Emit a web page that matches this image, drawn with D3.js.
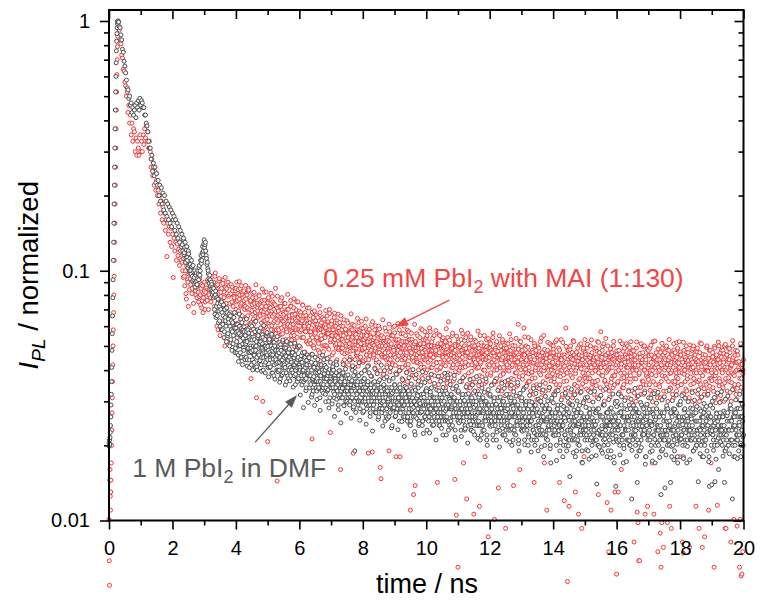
<!DOCTYPE html>
<html><head><meta charset="utf-8">
<script src="https://cdn.jsdelivr.net/npm/d3@7"></script>
<style>
body{margin:0;background:#fff;}
svg text{font-family:Arial,"Liberation Sans",Helvetica,sans-serif;}
</style>
</head><body>
<svg id="chart" width="761" height="601"></svg>
<script>
// ---------- axis ticks ----------
const xMajorTicks = [0,2,4,6,8,10,12,14,16,18,20];
const xMinorTicks = [1,3,5,7,9,11,13,15,17,19];
const yMajorTicks = [0.01,0.1,1];
const yTickLabels = ["0.01","0.1","1"];
const yMinorTicks = [0.02,0.03,0.04,0.05,0.06,0.07,0.08,0.09,0.2,0.3,0.4,0.5,0.6,0.7,0.8,0.9];

// ---------- series names ----------
const seriesNames = ["0.25 mM PbI2 with MAI (1:130)", "1 M PbI2 in DMF"];

// ---------- rising edge (explicit times, ns) ----------
const riseTime = [0,.008,.016,.024,.032,.04,.048,.056,.064,.072,.08,.088,.096,.104,.112,.12,.128,.136,.144,.152,.16,.168,.176,.184,.192,.2,.208,.216,.224,.232,.24,.248,.256,.264,.272,.28,.29];
const riseGray = [.0205,.0198,.021,.0202,.0215,.0225,.024,.026,.029,.032,.036,.041,.048,.056,.066,.078,.092,.11,.13,.155,.185,.22,.26,.31,.37,.44,.52,.6,.68,.76,.83,.89,.94,.975,.995,1,.99];
const riseRed = [.0101,.0069,.0055,.0145,.016,.0125,.011,.013,.0145,.017,.02,.023,.027,.031,.036,.042,.05,.058,.068,.08,.095,.11,.13,.155,.185,.22,.26,.31,.37,.44,.52,.61,.7,.79,.87,.94,1];

// ---------- decay, channels every 0.025 ns starting at 0.3 ns ----------
const decayStart = 0.3, decayStep = 0.025;
const decayGray = [
.99,.95,.94,.88,.84,.77,.75,.69,.66,.62,.58,.54,.53,.49,.50,.46,.47,.43,.45,.42,.44,.46,.41,.47,.45,.48,.44,.49,.46,.48,.47,.45,.45,.42,.42,.39,.38,.36,.33,.31,
.31,.28,.29,.25,.27,.24,.26,.225,.245,.22,.23,.20,.22,.19,.215,.185,.205,.175,.20,.17,.19,.165,.185,.16,.18,.155,.175,.15,.17,.16,.165,.145,.16,.14,.155,.135,.15,.13,.145,.125,
.14,.12,.135,.118,.13,.112,.125,.11,.12,.105,.112,.1,.11,.095,.105,.092,.1,.09,.098,.088,.1,.092,.105,.1,.115,.11,.125,.12,.133,.127,.12,.112,.108,.1,.093,.096,.087,.09,.083,.086,
.085,.07,.08,.065,.078,.074,.062,.072,.06,.07,.075,.058,.066,.054,.07,.063,.052,.068,.056,.062,.05,.066,.058,.048,.062,.055,.068,.047,.059,.052,.061,.046,.056,.05,.064,.045,.054,.058,.048,.052,
.055,.045,.052,.058,.047,.041,.053,.049,.06,.044,.05,.043,.057,.048,.052,.04,.055,.046,.051,.059,.042,.049,.054,.045,.05,.039,.047,.056,.044,.048,.052,.041,.046,.055,.043,.049,.038,.05,.045,.053,
.046,.04,.05,.043,.037,.048,.042,.052,.039,.045,.041,.049,.036,.044,.047,.04,.051,.038,.043,.046,.039,.045,.042,.035,.048,.041,.044,.037,.05,.04,.043,.036,.047,.04,.038,.045,.042,.034,.046,.039,
.04,.034,.038,.043,.032,.037,.041,.035,.045,.036,.033,.039,.036,.042,.031,.038,.035,.04,.034,.044,.037,.032,.041,.035,.038,.03,.036,.043,.034,.039,.035,.04,.031,.037,.034,.042,.033,.029,.038,.036,
.036,.031,.034,.039,.029,.035,.033,.038,.03,.034,.032,.037,.03,.035,.033,.04,.028,.034,.019,.036,.031,.035,.029,.038,.033,.03,.036,.032,.027,.034,.037,.03,.033,.028,.035,.031,.039,.029,.034,.032,
.033,.028,.031,.036,.027,.032,.03,.035,.026,.031,.029,.034,.027,.032,.03,.037,.025,.031,.028,.033,.03,.026,.034,.029,.032,.024,.031,.028,.035,.03,.027,.033,.029,.031,.025,.034,.028,.03,.032,.026,
.031,.026,.03,.034,.025,.029,.027,.032,.024,.03,.028,.033,.026,.03,.022,.029,.031,.027,.034,.025,.029,.027,.032,.024,.03,.028,.026,.033,.029,.023,.03,.025,.028,.032,.027,.029,.024,.031,.026,.028,
.029,.025,.03,.027,.033,.024,.028,.026,.031,.022,.027,.032,.025,.029,.026,.038,.023,.028,.03,.025,.028,.024,.031,.026,.029,.021,.027,.03,.025,.028,.026,.03,.023,.028,.032,.025,.027,.024,.029,.026,
.028,.024,.029,.026,.031,.023,.027,.025,.03,.022,.026,.03,.024,.028,.025,.032,.021,.027,.029,.024,.027,.023,.03,.025,.028,.02,.026,.029,.024,.027,.025,.029,.022,.027,.031,.024,.026,.023,.028,.025,
.027,.023,.028,.025,.03,.022,.026,.024,.029,.021,.025,.029,.023,.027,.024,.031,.02,.026,.028,.023,.026,.022,.029,.024,.027,.019,.025,.028,.023,.026,.024,.028,.021,.026,.03,.023,.025,.022,.027,.024,
.025,.021,.027,.023,.029,.02,.024,.022,.028,.019,.024,.03,.022,.026,.023,.027,.018,.025,.028,.022,.025,.021,.028,.023,.026,.017,.024,.027,.022,.025,.023,.027,.02,.025,.029,.022,.024,.021,.026,.023,
.024,.02,.026,.022,.028,.019,.023,.021,.027,.015,.023,.029,.021,.025,.022,.026,.018,.024,.027,.021,.024,.02,.027,.022,.025,.017,.023,.026,.021,.024,.022,.026,.019,.024,.028,.021,.023,.02,.025,.022,
.025,.021,.027,.014,.028,.02,.023,.022,.026,.019,.022,.029,.02,.025,.023,.027,.018,.024,.026,.021,.024,.019,.026,.022,.025,.017,.023,.0137,.021,.025,.023,.027,.02,.024,.029,.021,.022,.02,.026,.023,
.025,.021,.026,.023,.029,.02,.024,.0122,.027,.022,.023,.028,.02,.025,.0142,.027,.019,.024,.026,.021,.025,.022,.028,.023,.026,.018,.024,.027,.022,.025,.021,.027,.024,.019,.028,.022,.025,.02,.026,.023,
.024,.02,.026,.022,.0127,.019,.023,.021,.027,.0135,.022,.028,.02,.024,.021,.025,.0142,.023,.026,.02,.023,.019,.027,.022,.025,.017,.024,.026,.021,.024,.022,.026,.018,.023,.028,.02,.024,.021,.025,.022,
.024,.021,.026,.022,.028,.019,.023,.021,.027,.02,.023,.0143,.021,.025,.022,.026,.018,.024,.027,.021,.022,.025,.019,.024,.027,.0137,.023,.026,.0139,.024,.021,.025,.0143,.023,.027,.02,.024,.022,.026,.023,
.024,.02,.026,.022,.0142,.019,.023,.021,.027,.02,.023,.028,.021,.025,.0122,.026,.018,.024,.027,.021,.022,.026,.019,.024,.028,.02,.023,.025,.022
];
const decayRed = [
.93,.92,.84,.81,.73,.71,.64,.63,.57,.55,.5,.52,.43,.46,.39,.42,.35,.39,.33,.37,.36,.3,.34,.29,.33,.31,.29,.35,.3,.33,.3,.35,.32,.37,.34,.38,.33,.36,.31,.33,
.3,.26,.28,.24,.26,.22,.25,.21,.23,.2,.21,.185,.2,.17,.19,.16,.18,.155,.17,.145,.16,.114,.155,.14,.15,.13,.148,.125,.14,.094,.135,.12,.13,.11,.128,.115,.122,.105,.12,.11,
.115,.1,.112,.095,.108,.081,.104,.092,.072,.1,.098,.088,.102,.085,.095,.068,.092,.083,.09,.078,.088,.075,.09,.08,.085,.071,.087,.078,.083,.07,.082,.088,.076,.09,.08,.093,.078,.086,.095,.082,
.09,.072,.098,.08,.06,.088,.075,.093,.055,.082,.085,.07,.092,.078,.05,.086,.074,.081,.09,.065,.08,.068,.088,.075,.083,.058,.078,.085,.07,.09,.076,.084,.062,.08,.072,.087,.066,.078,.083,.07,
.072,.06,.08,.066,.085,.055,.075,.037,.068,.078,.064,.082,.07,.058,.031,.074,.066,.08,.052,.071,.069,.076,.03,.063,.082,.057,.072,.065,.0207,.078,.06,.027,.074,.067,.079,.054,.07,.063,.085,.058,
.0144,.066,.058,.072,.05,.064,.078,.056,.068,.061,.074,.053,.065,.06,.07,.047,.063,.076,.055,.067,.059,.071,.052,.064,.058,.075,.049,.062,.069,.057,.066,.054,.073,.06,.045,.068,.057,.063,.071,.051,
.06,.052,.066,.055,.0212,.063,.05,.069,.057,.061,.054,.065,.048,.059,.068,.053,.062,.046,.058,.064,.05,.061,.056,.066,.049,.058,.07,.0225,.055,.063,.059,.047,.065,.053,.06,.051,.057,.067,.049,.062,
.016,.055,.047,.06,.052,.044,.058,.05,.063,.048,.057,.051,.045,.059,.053,.061,.0186,.049,.056,.052,.046,.058,.05,.062,.043,.054,.059,.048,.053,.057,.05,.06,.044,.055,.051,.0186,.058,.047,.052,.061,
.0188,.053,.046,.058,.049,.043,.056,.051,.06,.047,.0163,.0147,.055,.048,.052,.045,.059,.05,.044,.054,.049,.019,.057,.046,.051,.042,.055,.048,.06,.045,.018,.053,.047,.05,.058,.018,.052,.049,.041,.056,
.05,.044,.055,.047,.052,.041,.057,.049,.011,.046,.053,.045,.0127,.051,.0138,.048,.056,.043,.05,.047,.054,.042,.049,.058,.045,.051,.04,.053,.047,.055,.044,.05,.046,.057,.041,.052,.048,.045,.055,.049,
.048,.043,.0142,.051,.046,.055,.041,.049,.053,.045,.05,.044,.052,.047,.036,.054,.0625,.046,.051,.043,.049,.055,.042,.047,.0146,.05,.0105,.045,.0065,.052,.046,.041,.053,.048,.056,.017,.05,.047,.054,.0122,
.047,.042,.051,.045,.053,.035,.048,.044,.0106,.05,.043,.052,.046,.049,.041,.0114,.055,.045,.05,.047,.044,.05,.018,.048,.053,.045,.0086,.049,.042,.051,.046,.043,.054,.047,.0101,.049,.036,.052,.045,.0135,
.046,.041,.05,.044,.052,.039,.047,.043,.0093,.049,.042,.051,.045,.048,.035,.053,.044,.049,.0138,.046,.05,.043,.047,.041,.061,.045,.016,.052,.044,.048,.043,.059,.046,.04,.05,.042,.047,.054,.036,.045,
.044,.039,.048,.043,.0142,.05,.041,.046,.034,.045,.049,.042,.052,.04,.047,.044,.055,.017,.046,.043,.011,.048,.04,.045,.051,.038,.047,.043,.05,.041,.045,.052,.035,.046,.042,.049,.0142,.044,.053,.04,
.046,.041,.012,.045,.059,.039,.0057,.048,.0114,.043,.05,.04,.047,.044,.052,.035,.013,.045,.041,.049,.0106,.046,.042,.051,.0093,.044,.048,.018,.053,.045,.042,.049,.037,.046,.043,.05,.041,.047,.036,.044,
.045,.04,.049,.043,.052,.0127,.047,.041,.057,.044,.048,.042,.051,.036,.046,.043,.0118,.05,.0075,.045,.041,.011,.047,.044,.05,.038,.013,.046,.0061,.043,.013,.048,.042,.045,.016,.051,.044,.035,.049,.046,
.045,.041,.05,.043,.047,.039,.052,.044,.048,.042,.0082,.046,.04,.049,.0108,.0098,.0069,.0069,.045,.051,.043,.047,.035,.05,.0106,.044,.039,.0114,.048,.042,.049,.04,.046,.017,.052,.0106,.045,.041,.047,.044,
.0075,.046,.04,.0089,.0065,.0098,.049,.0078,.043,.047,.041,.05,.0098,.044,.048,.0114,.042,.0093,.046,.036,.051,.043,.047,.039,.045,.049,.041,.052,.018,.046,.042,.0082,.0074,.048,.04,.045,.05,.043,.047,.041,
.0078,.045,.041,.048,.043,.05,.039,.046,.0114,.044,.049,.042,.0093,.047,.035,.051,.0078,.045,.043,.0086,.046,.04,.05,.044,.011,.048,.042,.017,.039,.047,.043,.0065,.049,.041,.046,.0115,.044,.05,.036,.047,
.045,.04,.048,.043,.05,.0093,.0093,.046,.041,.049,.044,.047,.0082,.042,.05,.045,.0101,.035,.048,.043,.0095,.046,.041,.0065,.0101,.006,.0061,.0075,.044
];

// ---------- interleaved channels (every 0.025 ns starting at 2.3125 ns) ----------
const interStart = 2.3125, interStep = 0.025;
const interGray = [
.127,.133,.116,.124,.108,.121,.113,.103,.117,.1,.106,.097,.104,.091,.099,.094,.086,.096,.091,.093,.097,.103,.096,.11,.107,.118,.116,.128,.124,.13,.115,.106,.102,.097,.089,.092,.084,.088,.08,.082,
.079,.067,.083,.072,.066,.077,.069,.063,.074,.058,.068,.061,.073,.057,.065,.06,.071,.055,.064,.067,.06,.053,.063,.057,.051,.065,.059,.049,.061,.054,.057,.05,.06,.047,.055,.062,.051,.049,.057,.044,
.051,.057,.044,.049,.054,.047,.05,.042,.056,.048,.046,.053,.041,.05,.045,.058,.047,.043,.052,.049,.045,.051,.04,.047,.053,.043,.049,.046,.041,.052,.047,.044,.05,.039,.046,.052,.042,.048,.044,.04,
.043,.048,.04,.045,.049,.038,.044,.041,.047,.042,.046,.039,.043,.048,.037,.045,.041,.044,.04,.047,.042,.038,.046,.04,.043,.036,.045,.039,.041,.044,.038,.043,.04,.036,.044,.041,.037,.042,.039,.045,
.038,.042,.035,.04,.037,.033,.041,.036,.039,.034,.037,.041,.034,.038,.036,.042,.033,.039,.035,.037,.04,.034,.037,.033,.039,.036,.031,.038,.035,.04,.034,.037,.032,.036,.039,.033,.035,.038,.031,.034,
.033,.037,.031,.035,.032,.036,.03,.034,.037,.031,.035,.029,.033,.036,.031,.034,.038,.03,.033,.035,.032,.036,.03,.033,.028,.035,.032,.034,.03,.037,.031,.034,.029,.033,.036,.03,.032,.027,.035,.031,
.032,.029,.034,.03,.027,.033,.031,.036,.028,.032,.03,.033,.028,.031,.035,.029,.032,.026,.034,.03,.029,.032,.027,.031,.034,.028,.03,.033,.026,.031,.033,.028,.031,.029,.035,.027,.032,.03,.028,.033,
.029,.032,.027,.03,.026,.033,.028,.031,.025,.029,.031,.027,.03,.034,.026,.029,.032,.028,.024,.03,.027,.031,.028,.025,.032,.029,.026,.03,.033,.027,.029,.026,.031,.028,.034,.025,.029,.027,.031,.03,
.028,.031,.026,.029,.024,.032,.027,.03,.025,.028,.03,.026,.033,.028,.025,.029,.031,.024,.028,.032,.026,.029,.027,.031,.023,.028,.03,.026,.033,.027,.029,.025,.028,.031,.026,.03,.023,.028,.032,.027,
.027,.03,.025,.028,.023,.031,.026,.029,.024,.027,.029,.025,.032,.027,.024,.028,.03,.022,.027,.031,.025,.028,.026,.03,.022,.027,.029,.025,.032,.026,.028,.024,.027,.03,.025,.029,.021,.027,.031,.026,
.026,.029,.024,.027,.022,.03,.025,.028,.023,.026,.028,.024,.031,.026,.023,.027,.029,.021,.026,.03,.024,.027,.025,.029,.021,.026,.028,.024,.031,.025,.027,.023,.026,.029,.024,.028,.02,.026,.03,.025,
.025,.028,.023,.026,.021,.029,.024,.027,.022,.025,.027,.023,.03,.025,.022,.026,.028,.02,.025,.029,.023,.026,.024,.028,.02,.025,.027,.023,.032,.024,.026,.022,.025,.028,.023,.027,.019,.025,.029,.024,
.024,.027,.022,.025,.02,.028,.023,.026,.021,.024,.026,.022,.029,.024,.021,.025,.027,.019,.024,.028,.022,.025,.023,.027,.019,.024,.026,.022,.031,.023,.025,.021,.024,.027,.022,.026,.018,.024,.028,.023,
.024,.027,.021,.025,.02,.028,.023,.026,.022,.024,.026,.021,.029,.024,.022,.025,.027,.019,.024,.028,.022,.025,.023,.027,.018,.024,.026,.021,.03,.023,.025,.021,.024,.027,.022,.026,.017,.024,.028,.023,
.023,.026,.021,.025,.02,.028,.022,.026,.021,.024,.026,.022,.028,.024,.021,.025,.027,.019,.023,.029,.022,.025,.023,.027,.018,.024,.026,.021,.031,.023,.025,.02,.024,.027,.022,.026,.017,.023,.028,.024,
.023,.026,.021,.024,.019,.027,.022,.025,.021,.023,.025,.022,.028,.023,.02,.024,.027,.018,.023,.028,.021,.024,.022,.027,.018,.023,.026,.021,.03,.022,.025,.02,.023,.026,.021,.025,.017,.023,.027,.023,
.023,.026,.021,.024,.019,.027,.022,.025,.02,.023,.025,.021,.028,.023,.02,.024,.026,.018,.023,.028,.021,.024,.022,.026,.018,.023,.026,.02,.03,.022,.024,.02,.023,.026,.021,.025,.016,.023,.027,.022,
.023,.026,.021,.024,.019,.027,.022,.025,.02,.023,.025,.021,.028,.023,.02,.024,.026,.018,.023,.028,.021,.024,.022,.026,.018,.023,.026,.02
];
const interRed = [
.108,.094,.118,.087,.1,.077,.11,.09,.097,.084,.093,.1,.081,.096,.074,.089,.097,.08,.086,.092,.082,.079,.093,.073,.088,.076,.068,.081,.09,.075,.086,.079,.092,.07,.084,.09,.075,.083,.088,.078,
.083,.095,.067,.087,.078,.058,.091,.073,.084,.079,.076,.089,.063,.082,.094,.071,.085,.052,.079,.087,.074,.081,.066,.086,.072,.079,.06,.083,.075,.068,.081,.069,.077,.085,.064,.074,.08,.056,.073,.079,
.077,.065,.071,.083,.059,.07,.076,.062,.073,.067,.061,.074,.068,.078,.056,.069,.073,.045,.066,.075,.072,.059,.067,.074,.063,.07,.055,.068,.077,.061,.066,.071,.058,.069,.075,.062,.067,.073,.056,.064,
.062,.069,.055,.065,.072,.059,.063,.048,.067,.06,.064,.058,.07,.061,.053,.066,.06,.072,.057,.063,.061,.055,.067,.059,.063,.05,.065,.058,.062,.068,.058,.063,.054,.066,.06,.057,.064,.052,.061,.059,
.057,.062,.051,.059,.054,.065,.049,.058,.063,.053,.06,.052,.058,.047,.061,.055,.064,.05,.057,.06,.054,.059,.05,.062,.056,.045,.058,.053,.061,.055,.058,.052,.06,.055,.049,.063,.054,.059,.051,.056,
.053,.058,.049,.055,.042,.057,.051,.056,.047,.054,.05,.056,.044,.053,.058,.048,.052,.041,.055,.049,.054,.047,.052,.057,.045,.051,.055,.049,.043,.053,.049,.054,.046,.052,.057,.044,.05,.055,.048,.051,
.051,.045,.054,.048,.04,.052,.047,.056,.043,.05,.053,.046,.05,.038,.054,.049,.045,.052,.041,.048,.047,.052,.044,.05,.055,.042,.049,.046,.053,.039,.05,.044,.048,.053,.041,.047,.051,.037,.049,.045,
.047,.052,.042,.049,.036,.05,.045,.053,.04,.047,.044,.05,.038,.048,.052,.043,.046,.035,.049,.045,.051,.041,.047,.037,.05,.044,.048,.039,.046,.052,.043,.048,.036,.046,.05,.041,.045,.049,.038,.047,
.046,.04,.05,.035,.047,.043,.051,.038,.045,.049,.042,.047,.034,.045,.05,.039,.044,.048,.036,.046,.049,.041,.045,.037,.048,.043,.033,.046,.05,.04,.044,.048,.036,.045,.041,.049,.038,.043,.047,.035,
.045,.039,.049,.034,.046,.042,.05,.037,.044,.048,.041,.046,.033,.044,.049,.038,.043,.047,.035,.045,.048,.04,.044,.036,.047,.042,.032,.045,.049,.039,.043,.047,.035,.044,.04,.048,.037,.042,.046,.034,
.044,.038,.048,.033,.045,.041,.049,.036,.043,.047,.04,.045,.032,.043,.048,.037,.042,.046,.034,.044,.047,.039,.043,.035,.046,.041,.031,.044,.048,.038,.042,.046,.034,.043,.039,.047,.036,.041,.045,.033,
.043,.037,.047,.032,.044,.04,.048,.035,.042,.046,.039,.044,.031,.042,.047,.036,.041,.045,.033,.043,.046,.038,.042,.034,.045,.04,.03,.043,.047,.037,.041,.045,.033,.042,.038,.046,.035,.04,.044,.032,
.042,.036,.046,.032,.043,.039,.048,.034,.041,.045,.038,.043,.031,.041,.046,.035,.04,.045,.033,.042,.045,.037,.041,.034,.044,.039,.03,.042,.047,.036,.04,.044,.033,.041,.037,.046,.034,.039,.043,.032,
.042,.036,.045,.031,.043,.039,.047,.034,.041,.045,.038,.043,.03,.041,.046,.035,.04,.044,.033,.042,.045,.037,.041,.034,.044,.038,.03,.042,.046,.036,.04,.044,.032,.041,.037,.045,.034,.039,.043,.031,
.041,.036,.045,.031,.042,.038,.047,.033,.04,.044,.037,.042,.03,.04,.045,.034,.039,.044,.032,.041,.044,.036,.04,.033,.043,.038,.029,.041,.046,.035,.039,.043,.032,.04,.036,.045,.033,.038,.042,.031,
.041,.035,.044,.031,.042,.038,.046,.033,.04,.044,.037,.042,.03,.04,.045,.034,.039,.043,.032,.041,.044,.036,.04,.033,.043,.037,.029,.041,.046,.035,.039,.043,.032,.04,.036,.044,.033,.038,.042,.031,
.04,.035,.044,.03,.041,.037,.046,.033,.039,.043,.036,.041,.03,.039,.044,.034,.038,.043,.032,.04,.043,.035,.04,.033,.042,.037,.029,.04,.045,.034,.038,.042,.031,.039,.036,.044,.032,.037,.041,.03,
.04,.035,.044,.03,.041,.037,.046,.033,.039,.043,.036,.041,.03,.039,.044,.034,.038,.043,.032,.04,.043,.035,.04,.033,.042,.037,.029,.04
];

// ---------- third channel set (every 0.025 ns starting at 4.00625 ns) ----------
const thirdStart = 4.00625, thirdStep = 0.025;
const thirdGray = [
.0612,.0468,.0557,.0433,.0671,.0502,.0449,.0588,.0421,.0536,.0597,.0452,.0519,.0641,.0415,.0487,.0563,.0439,.0608,.0474,.0528,.0401,.0583,.0459,.0495,.0627,.0412,.0541,.0466,.0572,.0437,.0519,.0396,.0554,.0478,.0603,.0421,.0499,.0452,.0566,
.0498,.0376,.0531,.0412,.0462,.0557,.0389,.0443,.0517,.0368,.0481,.0425,.0545,.0394,.0469,.0358,.0506,.0437,.0384,.0528,.0417,.0492,.0349,.0455,.0521,.0379,.0438,.0486,.0362,.0509,.0402,.0471,.0342,.0448,.0513,.0385,.0429,.0367,.0495,.0413,
.0421,.0318,.0457,.0349,.0395,.0283,.0472,.0366,.0331,.0438,.0384,.0297,.0449,.0356,.0408,.0312,.0463,.0341,.0377,.0289,.0426,.0362,.0305,.0441,.0338,.0393,.0276,.0414,.0352,.0459,.0323,.0387,.0418,.0299,.0371,.0445,.0334,.0282,.0402,.0358,
.0386,.0293,.0412,.0327,.0261,.0369,.0431,.0306,.0354,.0278,.0398,.0319,.0246,.0375,.0339,.0421,.0288,.0352,.0404,.0269,.0331,.0383,.0296,.0439,.0312,.0257,.0363,.0416,.0285,.0347,.0394,.0271,.0323,.0378,.0302,.0428,.0252,.0341,.0389,.0298,
.0362,.0274,.0398,.0309,.0243,.0351,.0414,.0288,.0336,.0261,.0379,.0301,.0228,.0357,.0322,.0405,.0271,.0334,.0387,.0254,.0316,.0366,.0281,.0419,.0296,.0239,.0346,.0398,.0268,.0329,.0376,.0256,.0307,.0362,.0286,.0409,.0235,.0324,.0371,.0283,
.0349,.0262,.0385,.0296,.0231,.0338,.0398,.0276,.0322,.0249,.0366,.0288,.0217,.0344,.031,.0391,.0258,.0321,.0373,.0242,.0303,.0352,.0269,.0402,.0284,.0227,.0333,.0384,.0256,.0316,.0362,.0244,.0294,.0348,.0273,.0394,.0223,.0311,.0357,.0271,
.0337,.0254,.0372,.0287,.0224,.0327,.0385,.0267,.0312,.0241,.0354,.0279,.021,.0333,.03,.0378,.025,.0311,.0361,.0234,.0293,.0341,.0261,.0389,.0275,.022,.0322,.0372,.0248,.0306,.035,.0236,.0285,.0337,.0264,.0381,.0216,.0301,.0345,.0262,
.0326,.0246,.036,.0278,.0217,.0317,.0373,.0259,.0302,.0233,.0343,.027,.0204,.0322,.029,.0366,.0242,.0301,.0349,.0227,.0284,.033,.0253,.0377,.0266,.0213,.0312,.036,.024,.0296,.0339,.0229,.0276,.0326,.0256,.0369,.021,.0291,.0334,.0254,
.0315,.0238,.0348,.0269,.021,.0307,.0361,.0251,.0292,.0226,.0332,.0261,.0197,.0312,.0281,.0354,.0234,.0291,.0338,.022,.0275,.032,.0245,.0365,.0258,.0206,.0302,.0348,.0232,.0287,.0328,.0222,.0267,.0315,.0248,.0357,.0203,.0282,.0323,.0246,
.0301,.0228,.0333,.0257,.0201,.0293,.0345,.024,.0279,.0216,.0317,.025,.0188,.0298,.0269,.0338,.0224,.0278,.0323,.021,.0263,.0306,.0234,.0349,.0247,.0197,.0289,.0333,.0222,.0274,.0314,.0212,.0255,.0301,.0237,.0341,.0194,.027,.0309,.0235,
.0296,.0219,.0318,.0246,.0174,.0281,.0331,.0229,.0268,.0205,.0304,.0239,.018,.0286,.0258,.0324,.0213,.0266,.031,.0199,.0252,.0293,.0224,.0335,.0236,.0187,.0277,.0319,.0211,.0262,.0301,.0202,.0244,.0289,.0226,.0327,.0171,.0258,.0296,.0224,
.0231,.0284,.0192,.0312,.0247,.0176,.0269,.0326,.0215,.0258,.0298,.0208,.0329,.0241,.0182,.0276,.0224,.0307,.0197,.0264,.0317,.0233,.0186,.0291,.0253,.0212,.0336,.0239,.0271,.0201,.0305,.0222,.0178,.0282,.0249,.0321,.0206,.0263,.0294,.0217,
.0286,.0207,.0321,.0238,.0183,.0273,.0313,.0221,.0259,.0194,.0302,.0232,.0172,.0278,.0251,.0329,.0209,.0262,.0306,.0191,.0246,.0289,.0218,.0338,.0229,.0181,.0271,.0315,.0204,.0256,.0297,.0196,.0239,.0283,.0221,.0324,.0168,.0254,.0292,.0219,
.0226,.0279,.0188,.0309,.0243,.0173,.0266,.0322,.0211,.0254,.0295,.0204,.0326,.0237,.0179,.0272,.0219,.0304,.0193,.0261,.0313,.0229,.0183,.0288,.0249,.0208,.0332,.0235,.0268,.0198,.0302,.0218,.0175,.0279,.0245,.0318,.0202,.0259,.0291,.0214,
.0291,.0212,.0316,.0242,.0177,.0277,.0309,.0225,.0263,.0198,.0299,.0236,.0175,.0282,.0255,.0325,.0213,.0266,.0303,.0195,.025,.0286,.0222,.0334,.0233,.0185,.0274,.0312,.0208,.0259,.0294,.02,.0243,.0286,.0225,.032,.0172,.0257,.0289,.0223,
.0229,.0282,.0191,.0311,.0246,.0176,.0268,.0324,.0214,.0257,.0297,.0207,.0328,.024,.0181,.0274,.0222,.0306,.0195,.0263,.0315,.0231,.0185,.029,.0251,.021,.0334,.0237,.027,.02,.0304,.022,.0177,.0281,.0247,.032,.0204,.0261,.0293,.0216
];
const thirdRed = [
.0851,.0613,.0782,.0547,.0904,.0668,.0729,.0582,.0816,.0635,.0758,.0521,.0873,.0649,.0701,.0569,.0838,.0614,.0766,.0489,.0693,.0812,.0558,.0747,.0627,.0879,.0533,.0712,.0651,.0794,.0578,.0731,.0619,.0846,.0542,.0685,.0763,.0596,.0822,.0637,
.0744,.0552,.0693,.0508,.0812,.0603,.0657,.0527,.0738,.0579,.0686,.0476,.0791,.0589,.0634,.0516,.0761,.0557,.0697,.0449,.0628,.0739,.0503,.0681,.0569,.0804,.0485,.0648,.0594,.0723,.0528,.0665,.0562,.0772,.0497,.0622,.0696,.0541,.0751,.0579,
.0667,.0494,.0621,.0455,.0728,.0541,.0589,.0472,.0662,.0519,.0616,.0428,.0709,.0528,.0569,.0463,.0683,.0499,.0626,.0406,.0563,.0664,.0451,.0611,.0511,.0722,.0436,.0582,.0533,.0649,.0474,.0597,.0504,.0693,.0446,.0558,.0625,.0485,.0674,.0519,
.0621,.046,.0578,.0424,.0677,.0503,.0548,.044,.0616,.0483,.0573,.0398,.066,.0491,.053,.0431,.0636,.0465,.0583,.0379,.0524,.0618,.042,.0569,.0476,.0672,.0406,.0542,.0496,.0604,.0441,.0556,.0469,.0645,.0415,.0519,.0582,.0451,.0627,.0483,
.0588,.0436,.0547,.0401,.0641,.0476,.0519,.0417,.0583,.0457,.0542,.0377,.0625,.0465,.0502,.0408,.0602,.044,.0552,.0359,.0496,.0585,.0398,.0539,.0451,.0636,.0385,.0513,.047,.0572,.0418,.0526,.0444,.0611,.0393,.0491,.0551,.0427,.0594,.0457,
.0564,.0418,.0525,.0385,.0615,.0457,.0498,.04,.0559,.0439,.052,.0362,.06,.0446,.0482,.0392,.0578,.0422,.053,.0345,.0476,.0562,.0382,.0517,.0433,.061,.037,.0492,.0451,.0549,.0401,.0505,.0426,.0586,.0377,.0471,.0529,.041,.057,.0439,
.0541,.0401,.0504,.0369,.059,.0439,.0478,.0384,.0537,.0421,.0499,.0347,.0576,.0428,.0463,.0376,.0555,.0405,.0509,.0331,.0457,.0539,.0366,.0496,.0416,.0586,.0355,.0472,.0433,.0527,.0385,.0485,.0409,.0562,.0362,.0452,.0508,.0394,.0547,.0421,
.0529,.0392,.0493,.0361,.0577,.0429,.0467,.0375,.0525,.0412,.0488,.0339,.0563,.0419,.0453,.0368,.0543,.0396,.0498,.0324,.0447,.0527,.0358,.0485,.0407,.0573,.0347,.0462,.0423,.0515,.0376,.0474,.04,.055,.0354,.0442,.0497,.0385,.0535,.0412,
.0516,.0382,.048,.0352,.0563,.0418,.0455,.0366,.0512,.0401,.0476,.0331,.0549,.0408,.0442,.0359,.053,.0386,.0486,.0316,.0436,.0514,.0349,.0473,.0397,.0559,.0338,.045,.0413,.0502,.0367,.0462,.039,.0536,.0345,.0431,.0485,.0376,.0522,.0401,
.0497,.0368,.0463,.0339,.0543,.0403,.0439,.0353,.0494,.0387,.0459,.0319,.0529,.0393,.0426,.0346,.0511,.0372,.0469,.0305,.042,.0496,.0337,.0456,.0383,.0539,.0326,.0434,.0398,.0484,.0354,.0446,.0376,.0517,.0333,.0416,.0468,.0362,.0503,.0387,
.0484,.0359,.0451,.033,.0529,.0393,.0428,.0344,.0481,.0377,.0447,.0311,.0516,.0383,.0415,.0337,.0498,.0362,.0457,.0297,.0409,.0483,.0328,.0444,.0373,.0525,.0318,.0423,.0388,.0472,.0345,.0434,.0366,.0504,.0324,.0405,.0456,.0353,.049,.0377,
.0371,.0462,.0336,.0508,.0388,.0302,.0449,.0416,.0529,.0354,.0437,.0323,.0491,.0398,.0347,.0476,.0364,.0517,.0411,.0315,.0452,.0381,.0498,.0332,.0426,.0364,.0536,.0392,.0341,.0469,.0404,.0311,.0487,.0357,.0443,.0379,.0521,.0349,.0432,.0395,
.0478,.0355,.0446,.0326,.0523,.0389,.0423,.034,.0476,.0373,.0442,.0308,.051,.0379,.041,.0333,.0492,.0358,.0452,.0294,.0404,.0478,.0324,.0439,.0369,.0519,.0314,.0418,.0384,.0467,.0341,.0429,.0362,.0498,.032,.04,.0451,.0349,.0485,.0373,
.0367,.0457,.0332,.0503,.0384,.0299,.0444,.0411,.0523,.035,.0432,.032,.0486,.0394,.0343,.0471,.036,.0512,.0406,.0312,.0447,.0377,.0493,.0329,.0421,.036,.053,.0388,.0337,.0464,.04,.0308,.0482,.0353,.0438,.0375,.0516,.0345,.0427,.0391,
.0473,.0351,.0441,.0322,.0517,.0385,.0418,.0336,.0471,.0369,.0437,.0305,.0505,.0375,.0406,.033,.0487,.0354,.0447,.0291,.04,.0473,.0321,.0434,.0365,.0514,.0311,.0413,.038,.0462,.0337,.0424,.0358,.0493,.0317,.0396,.0446,.0345,.048,.0369,
.0363,.0452,.0329,.0498,.038,.0296,.0439,.0407,.0518,.0346,.0427,.0317,.0481,.039,.034,.0466,.0356,.0507,.0402,.0309,.0442,.0373,.0488,.0326,.0417,.0356,.0525,.0384,.0334,.0459,.0396,.0305,.0477,.0349,.0433,.0371,.0511,.0341,.0422,.0387
];

// ---------- annotations (data coordinates) ----------
const annotRed  = {t: 6.75, v: 0.0861, arrowFrom: [10.73, 0.0763], arrowTo: [9.02, 0.0595]};
const annotGray = {t: 0.73, v: 0.01494, arrowFrom: [4.61, 0.0206], arrowTo: [5.93, 0.0318]};

// ---------- build ----------
const svg = d3.select("#chart");
const x = d3.scaleLinear().domain([0, 20]).range([109, 743.5]);
const y = d3.scaleLog().domain([0.01, 1]).range([520.5, 21]);
const yTopVal = 1.107;                // frame top a bit above 1
const pL = x(0), pR = x(20), pB = y(0.01), pT = y(yTopVal);

const colRed = "#ef3434", colGray = "#4b4b4b";
const textRed = "#f04646", textGray = "#5a5a5a";

function toPoints(times, vals){ return vals.map((v,i)=>({t:times[i], v})); }
function stepPoints(start, step, vals){ return vals.map((v,i)=>({t: start + i*step, v})); }

const redPts = toPoints(riseTime, riseRed)
  .concat(stepPoints(decayStart, decayStep, decayRed))
  .concat(stepPoints(interStart, interStep, interRed))
  .concat(stepPoints(thirdStart, thirdStep, thirdRed))
  .filter(d=>d.t<=20.0001).sort((a,b)=>a.t-b.t);
const grayPts = toPoints(riseTime, riseGray)
  .concat(stepPoints(decayStart, decayStep, decayGray))
  .concat(stepPoints(interStart, interStep, interGray))
  .concat(stepPoints(thirdStart, thirdStep, thirdGray))
  .filter(d=>d.t<=20.0001).sort((a,b)=>a.t-b.t);

// data points (red under, gray on top)
const gData = svg.append("g");
gData.append("g").selectAll("circle").data(redPts).join("circle")
  .attr("cx", d=>x(d.t)).attr("cy", d=>y(d.v)).attr("r", 2.0)
  .attr("fill", "#fff").attr("stroke", colRed).attr("stroke-width", 1.0);
gData.append("g").selectAll("circle").data(grayPts).join("circle")
  .attr("cx", d=>x(d.t)).attr("cy", d=>y(d.v)).attr("r", 2.0)
  .attr("fill", "#fff").attr("stroke", colGray).attr("stroke-width", 1.0);

// axes
function styleAxis(g){
  g.select(".domain").remove();
  g.selectAll("line").attr("stroke","#000").attr("stroke-width",1.6);
  g.selectAll("text").attr("font-family","Arial, 'Liberation Sans', sans-serif").attr("font-size",20).attr("fill","#000");
}
svg.append("g").attr("transform",`translate(0,${pB})`)
  .call(d3.axisBottom(x).tickValues(xMajorTicks).tickSize(9).tickPadding(11).tickFormat(d3.format("d"))).call(styleAxis);
svg.append("g").attr("transform",`translate(0,${pB})`)
  .call(d3.axisBottom(x).tickValues(xMinorTicks).tickSize(5).tickFormat("")).call(styleAxis);
svg.append("g").attr("transform",`translate(0,${pT})`)
  .call(d3.axisTop(x).tickValues(xMajorTicks).tickSize(-9).tickFormat("")).call(styleAxis);
svg.append("g").attr("transform",`translate(0,${pT})`)
  .call(d3.axisTop(x).tickValues(xMinorTicks).tickSize(-5).tickFormat("")).call(styleAxis);
svg.append("g").attr("transform",`translate(${pL},0)`)
  .call(d3.axisLeft(y).tickValues(yMajorTicks).tickSize(9).tickPadding(10).tickFormat((d,i)=>yTickLabels[i])).call(styleAxis);
svg.append("g").attr("transform",`translate(${pL},0)`)
  .call(d3.axisLeft(y).tickValues(yMinorTicks).tickSize(5).tickFormat("")).call(styleAxis);
svg.append("g").attr("transform",`translate(${pR},0)`)
  .call(d3.axisRight(y).tickValues(yMajorTicks).tickSize(-9).tickFormat("")).call(styleAxis);
svg.append("g").attr("transform",`translate(${pR},0)`)
  .call(d3.axisRight(y).tickValues(yMinorTicks).tickSize(-5).tickFormat("")).call(styleAxis);

// frame
svg.append("rect").attr("x",pL).attr("y",pT).attr("width",pR-pL).attr("height",pB-pT)
  .attr("fill","none").attr("stroke","#000").attr("stroke-width",2);

// axis titles
svg.append("text").attr("x",427).attr("y",593).attr("text-anchor","middle")
  .attr("font-size",27).attr("fill","#000").text("time / ns");
const yt = svg.append("text").attr("transform",`translate(38,${(pT+pB)/2 + 10}) rotate(-90)`)
  .attr("text-anchor","middle").attr("font-size",27.5).attr("fill","#000");
yt.append("tspan").attr("font-style","italic").text("I");
yt.append("tspan").attr("font-style","italic").attr("font-size",19).attr("dy",7).text("PL");
yt.append("tspan").attr("dy",-7).text(" / normalized");

// annotations
function arrow(from, to, color){
  const x0=x(from[0]), y0=y(from[1]), x1=x(to[0]), y1=y(to[1]);
  const dx=x1-x0, dy=y1-y0, L=Math.hypot(dx,dy), ux=dx/L, uy=dy/L;
  const hl=13, hw=4.5, bx=x1-ux*hl, by=y1-uy*hl;
  svg.append("line").attr("x1",x0).attr("y1",y0).attr("x2",bx+ux*2).attr("y2",by+uy*2)
    .attr("stroke",color).attr("stroke-width",1.3);
  svg.append("path").attr("d",`M${x1},${y1}L${bx-uy*hw},${by+ux*hw}L${bx+uy*hw},${by-ux*hw}Z`).attr("fill",color);
}
function label(a, color, pre, sub, post){
  const t = svg.append("text").attr("x",x(a.t)).attr("y",y(a.v)).attr("font-size",26.5).attr("fill",color);
  t.append("tspan").text(pre);
  t.append("tspan").attr("font-size",18).attr("dy",6).text(sub);
  t.append("tspan").attr("dy",-6).text(post);
}
arrow(annotRed.arrowFrom, annotRed.arrowTo, textRed);
label(annotRed, textRed, "0.25 mM PbI", "2", " with MAI (1:130)");
arrow(annotGray.arrowFrom, annotGray.arrowTo, textGray);
label(annotGray, textGray, "1 M PbI", "2", " in DMF");
</script>
</body></html>
